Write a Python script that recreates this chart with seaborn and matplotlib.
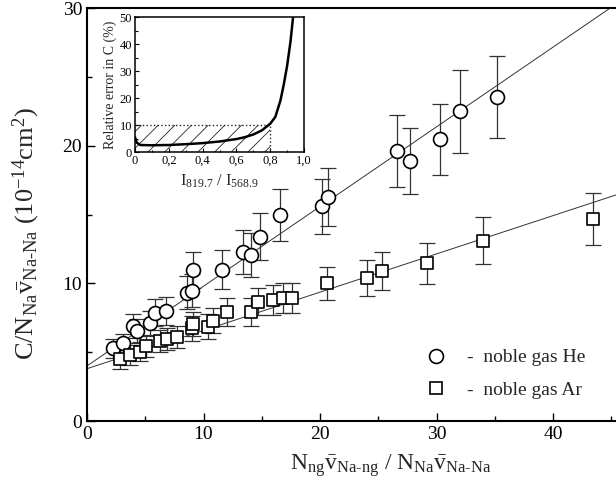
import numpy as np
import pandas as pd
import seaborn as sns
from matplotlib import pyplot as plt
import matplotlib.ticker as ticker
from matplotlib.lines import Line2D

# He (circles)
he_x = [2.2, 3.06, 3.98, 4.3, 5.4, 5.84, 6.75, 8.6, 8.98, 9.13, 11.56, 13.36, 14.05,
        14.85, 16.57, 20.2, 20.7, 26.6, 27.7, 30.3, 32.0, 35.2]
he_y = [5.28, 5.64, 6.9, 6.54, 7.1, 7.87, 7.99, 9.3, 9.46, 10.96, 11.0, 12.3, 12.06,
        13.4, 14.96, 15.6, 16.3, 19.6, 18.9, 20.46, 22.5, 23.55]
he_err = [0.7, 0.7, 0.9, 0.9, 0.9, 1.0, 1.0, 1.2, 1.2, 1.3, 1.4, 1.6, 1.6,
          1.7, 1.9, 2.0, 2.1, 2.6, 2.4, 2.6, 3.0, 3.0]

# Ar (squares)
ar_x = [2.83, 3.69, 4.55, 5.04, 6.27, 6.9, 7.75, 9.04, 9.13, 10.4, 10.84, 12.05, 14.08,
        14.65, 15.94, 16.85, 17.57, 20.6, 24.0, 25.3, 29.2, 33.97, 43.4]
ar_y = [4.48, 4.79, 5.03, 5.45, 5.83, 5.93, 6.12, 6.73, 7.04, 6.85, 7.28, 7.92, 7.92,
        8.67, 8.79, 8.96, 8.96, 10.0, 10.4, 10.9, 11.45, 13.1, 14.67]
ar_err = [0.7, 0.7, 0.7, 0.8, 0.8, 0.8, 0.8, 0.9, 0.9, 0.9, 0.9, 1.0, 1.0,
          1.0, 1.1, 1.1, 1.1, 1.2, 1.3, 1.4, 1.5, 1.7, 1.9]

# linear fits
he_fit = (4.0, 0.579)
ar_fit = (3.8, 0.278)

# inset: relative error curve
ratio = [0.0, 0.01, 0.03, 0.1, 0.2, 0.3, 0.4, 0.5, 0.6, 0.65, 0.7, 0.75, 0.8,
         0.83, 0.86, 0.88, 0.9, 0.92, 0.935]
rel_err = [5.5, 3.5, 2.6, 2.5, 2.6, 2.9, 3.3, 3.9, 4.8, 5.5, 6.5, 8.0, 10.5,
           13.0, 19.0, 25.0, 32.0, 41.0, 50.0]

sns.set_theme(style='ticks')
plt.rcParams['font.family'] = ['Liberation Serif', 'DejaVu Serif']
plt.rcParams['mathtext.fontset'] = 'custom'
plt.rcParams['mathtext.rm'] = 'Liberation Serif'
plt.rcParams['mathtext.it'] = 'Liberation Serif:italic'
plt.rcParams['hatch.linewidth'] = 0.6

fig = plt.figure(figsize=(6.16, 4.92), dpi=100)
ax = fig.add_axes([0.1412, 0.1443, 0.8588, 0.8394])

xmax = 45.4
for (b, m) in (he_fit, ar_fit):
    xs = np.array([0, xmax])
    sns.lineplot(x=xs, y=b + m * xs, ax=ax, color='#333333', lw=0.7, zorder=1)

ax.errorbar(he_x, he_y, yerr=he_err, fmt='none', ecolor='#333333', elinewidth=0.9,
            capsize=5.5, capthick=0.9, zorder=2)
ax.errorbar(ar_x, ar_y, yerr=ar_err, fmt='none', ecolor='#333333', elinewidth=0.9,
            capsize=5.5, capthick=0.9, zorder=2)
sns.scatterplot(x=he_x, y=he_y, ax=ax, marker='o', s=100, facecolor='white',
                edgecolor='black', linewidth=1.2, zorder=3)
sns.scatterplot(x=ar_x, y=ar_y, ax=ax, marker='s', s=85, facecolor='white',
                edgecolor='black', linewidth=1.2, zorder=3)

ax.set_xlim(0, xmax)
ax.set_ylim(0, 30)
ax.xaxis.set_major_locator(ticker.MultipleLocator(10))
ax.xaxis.set_minor_locator(ticker.MultipleLocator(5))
ax.yaxis.set_major_locator(ticker.MultipleLocator(10))
ax.yaxis.set_minor_locator(ticker.MultipleLocator(5))
ax.tick_params(which='both', direction='in', labelsize=14, colors='black')
ax.tick_params(which='major', length=6, width=1)
ax.tick_params(which='minor', length=3.5, width=1)
for s in ax.spines.values():
    s.set_linewidth(1.5)
    s.set_color('black')
ax.spines['right'].set_visible(False)

ax.set_xlabel(r'N$_{\mathrm{ng}}\bar{\mathrm{v}}_{\mathrm{Na\text{-}ng}}$ / '
              r'N$_{\mathrm{Na}}\bar{\mathrm{v}}_{\mathrm{Na\text{-}Na}}$', fontsize=17)
ax.xaxis.set_label_coords(0.575, -0.075, transform=ax.transAxes)
ax.xaxis.label.set_va('top')
ax.set_ylabel(r'C/N$_{\mathrm{Na}}\bar{\mathrm{v}}_{\mathrm{Na\text{-}Na}}$ (10$^{-14}$cm$^{2}$)',
              fontsize=19)
ax.yaxis.set_label_coords(-0.085, 0.455, transform=ax.transAxes)

handles = [Line2D([], [], ls='none', marker='o', ms=10, mfc='white', mec='black', mew=1.2),
           Line2D([], [], ls='none', marker='s', ms=9, mfc='white', mec='black', mew=1.2)]
ax.legend(handles, ['-  noble gas He', '-  noble gas Ar'], frameon=False, fontsize=14,
          loc='lower right', bbox_to_anchor=(0.975, 0.012), handletextpad=0.6,
          labelspacing=0.75)

# inset
ins = fig.add_axes([0.2192, 0.691, 0.2744, 0.2744])
ins.fill_between([0, 0.8], 0, 10, facecolor='none', edgecolor='#222222', hatch='//',
                 linewidth=0)
ins.plot([0, 0.8, 0.8], [10, 10, 0], color='#222222', ls=':', lw=1.0)
sns.lineplot(x=ratio, y=rel_err, ax=ins, color='black', lw=1.8, sort=False)
ins.set_xlim(0, 1)
ins.set_ylim(0, 50)
ins.xaxis.set_major_locator(ticker.MultipleLocator(0.2))
ins.xaxis.set_minor_locator(ticker.MultipleLocator(0.1))
ins.yaxis.set_major_locator(ticker.MultipleLocator(10))
ins.yaxis.set_minor_locator(ticker.MultipleLocator(5))
ins.xaxis.set_major_formatter(ticker.FuncFormatter(
    lambda v, p: '0' if abs(v) < 1e-9 else f'{v:.1f}'.replace('.', ',')))
ins.tick_params(which='both', direction='in', labelsize=9, colors='black', pad=2)
ins.tick_params(which='major', length=3, width=0.8)
ins.tick_params(which='minor', length=1.8, width=0.8)
for s in ins.spines.values():
    s.set_linewidth(1.1)
    s.set_color('black')
ins.set_xlabel(r'I$_{819.7}$ / I$_{568.9}$', fontsize=12, labelpad=4)
ins.set_ylabel('Relative error in C (%)', fontsize=10, labelpad=2)

fig.savefig('out.png', dpi=100)
